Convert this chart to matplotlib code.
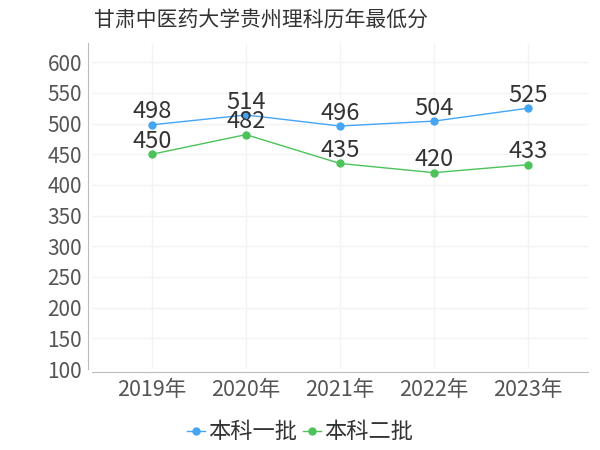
import numpy as np
import matplotlib
matplotlib.use("Agg")
import matplotlib.pyplot as plt

plt.rcParams['font.family'] = ['Noto Sans CJK SC', 'DejaVu Sans']

# data
years = ["2019年", "2020年", "2021年", "2022年", "2023年"]
series_names = ["本科一批", "本科二批"]
batch1 = [498, 514, 496, 504, 525]
batch2 = [450, 482, 435, 420, 433]
yticks = [100, 150, 200, 250, 300, 350, 400, 450, 500, 550, 600]
title = "甘肃中医药大学贵州理科历年最低分"

colors = ["#45a5f5", "#4cc35a"]

fig = plt.figure(figsize=(6, 4.5), dpi=100)
ax = fig.add_axes([0.153, 0.18, 0.827, 0.724])

x = np.arange(len(years))
for vals, name, c in zip([batch1, batch2], series_names, colors):
    ax.plot(x, vals, color=c, linewidth=1, marker="o", markersize=5, label=name)
    for xi, v in zip(x, vals):
        ax.annotate(str(v), (xi, v), xytext=(0, 1), textcoords="offset points",
                    ha="center", va="bottom", fontsize=17, color="#333333")

ax.tick_params(axis="x", length=0, pad=5, labelsize=15.5, labelcolor="#555555")
ax.tick_params(axis="y", length=0, pad=4, labelsize=15, labelcolor="#555555")
ax.set_xlim(-0.64, 4.64)
ax.set_ylim(100, 631)
ax.set_xticks(x)
ax.set_xticklabels(years)
ax.set_yticks(yticks)
ax.set_yticklabels([str(v) for v in yticks])

ax.grid(True, color="#f3f3f3", linewidth=1)
ax.set_axisbelow(True)
for s in ["top", "right"]:
    ax.spines[s].set_visible(False)
ax.spines["left"].set_color("#bbbbbb")
ax.spines["left"].set_position(("outward", 3))
ax.spines["bottom"].set_color("#bbbbbb")
ax.spines["bottom"].set_position(("outward", 2))

fig.text(0.435, 0.955, title, ha="center", va="center", fontsize=15, color="#333333")

fig.legend(loc="center", bbox_to_anchor=(0.5, 0.04), ncol=2, frameon=False,
           fontsize=16, handlelength=0.8, handletextpad=0.15, columnspacing=0.25,
           labelcolor="#333333", borderpad=0)

fig.savefig("out.png", dpi=100)
